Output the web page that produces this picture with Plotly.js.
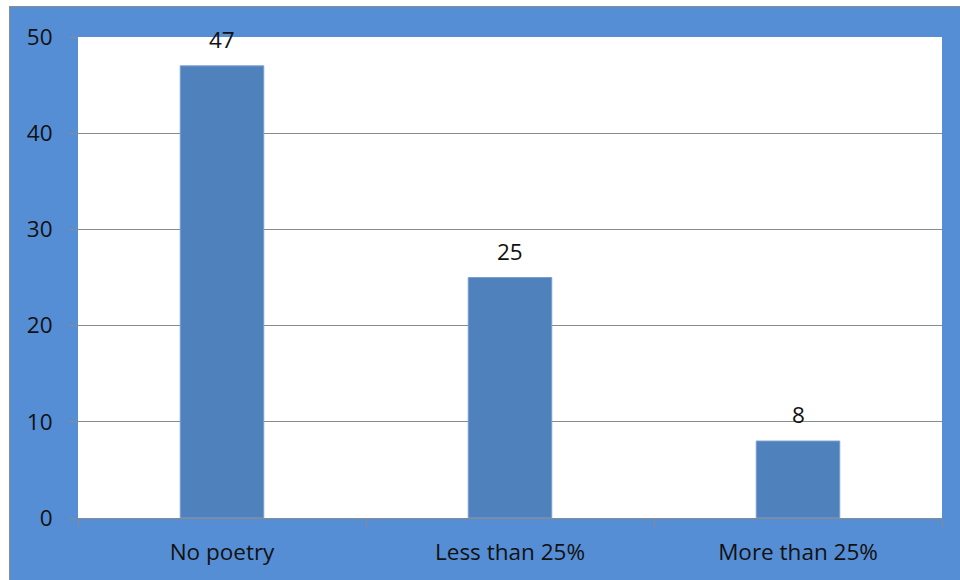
<!DOCTYPE html>
<html>
<head>
<meta charset="utf-8">
<script src="https://cdn.plot.ly/plotly-3.0.1.min.js"></script>
<style>
  html, body { margin: 0; padding: 0; background: #ffffff; }
  #frame { position: absolute; left: 9px; top: 6px; width: 951px; height: 574px;
           border-left: 1px solid #8c8c8c; border-top: 1px solid #8c8c8c; box-sizing: border-box; }
  #chart { width: 950px; height: 573px; }
</style>
</head>
<body>
<div id="frame"><div id="chart"></div></div>
<script>
// Share of poetry in the reading material
const categories = ['No poetry', 'Less than 25%', 'More than 25%'];
const counts = [47, 25, 8];
const yTicks = [0, 10, 20, 30, 40, 50];

const labelFont = { family: '"Open Sans", sans-serif', size: 22.5, color: '#111111' };

const trace = {
  type: 'bar',
  x: categories,
  y: counts,
  marker: { color: '#4F81BD', line: { color: '#7A9FD0', width: 1 } },
  hoverinfo: 'x+y'
};

// value labels above each bar, taken from the same counts
const valueLabels = categories.map((c, i) => ({
  x: c,
  y: counts[i],
  xref: 'x',
  yref: 'y',
  text: String(counts[i]),
  showarrow: false,
  yanchor: 'bottom',
  yshift: 9,
  font: labelFont
}));

const layout = {
  width: 950,
  height: 573,
  margin: { l: 68, r: 18, t: 30, b: 62 },
  paper_bgcolor: '#558ED5',
  plot_bgcolor: '#ffffff',
  bargap: 0.71,
  showlegend: false,
  font: labelFont,
  annotations: valueLabels,
  xaxis: {
    type: 'category',
    showgrid: false,
    showline: true,
    linecolor: '#8a8a8a',
    linewidth: 1,
    ticks: 'outside',
    tickson: 'boundaries',
    ticklen: 8,
    tickcolor: '#8a8a8a',
    tickfont: labelFont,
    ticklabelstandoff: 14
  },
  yaxis: {
    range: [0, 50],
    tickvals: yTicks,
    ticktext: yTicks.map(String),
    showgrid: true,
    gridcolor: '#8a8a8a',
    gridwidth: 1,
    zeroline: false,
    showline: false,
    ticks: 'outside',
    ticklen: 8,
    tickcolor: '#8a8a8a',
    tickfont: labelFont,
    ticklabelstandoff: 12
  }
};

Plotly.newPlot('chart', [trace], layout, { displayModeBar: false, staticPlot: true });
</script>
</body>
</html>
